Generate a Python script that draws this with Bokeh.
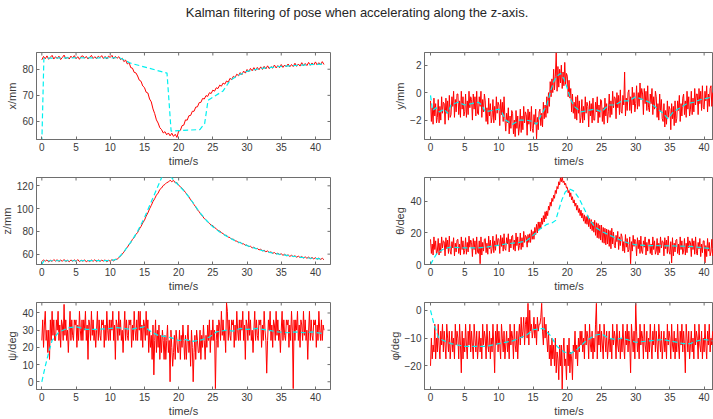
from bokeh.plotting import figure
from bokeh.layouts import column, gridplot
from bokeh.models import Range1d
from bokeh.embed import file_html
from bokeh.resources import INLINE

TITLE = "Kalman filtering of pose when accelerating along the z-axis."
X_LABEL = "time/s"
X_TICKS = [0, 5, 10, 15, 20, 25, 30, 35, 40]
DT_X = 0.25    # sampling step of x and z measurements (s)
DT_F = 0.125   # sampling step of y, theta, psi, phi measurements (s)

# ---------------- x / mm ----------------
x_meas = [
    83.6, 84.9, 84.0, 85.1, 83.8, 84.6, 85.3, 83.9, 84.8, 84.1, 85.0, 83.7,
    84.5, 85.4, 84.0, 84.7, 83.9, 85.0, 84.3, 85.2, 84.0, 84.8, 83.8, 84.9,
    85.1, 84.2, 84.9, 83.9, 84.6, 85.3, 84.1, 84.8, 84.0, 85.0, 84.4, 85.2,
    84.1, 84.9, 83.9, 85.0, 84.5, 85.3, 84.0, 84.9, 84.2, 84.8, 83.7, 84.2,
    82.9, 83.5, 82.0, 82.6, 80.6, 80.4, 78.8, 78.6, 77.4, 75.8, 75.4, 73.6,
    73.0, 71.2, 70.9, 68.6, 67.5, 64.8, 63.0, 60.6, 59.4, 57.6, 56.9, 55.6,
    56.1, 54.9, 55.6, 54.5, 55.5, 54.3, 55.1, 53.9, 56.3, 56.6, 58.4, 58.6,
    60.6, 60.5, 62.2, 62.3, 63.9, 63.9, 65.5, 65.6, 67.2, 67.3, 68.8, 68.6,
    69.9, 69.6, 71.0, 70.7, 72.0, 71.6, 72.9, 72.6, 73.9, 73.5, 74.7, 74.3,
    75.5, 75.0, 76.5, 76.0, 77.3, 76.8, 78.1, 77.5, 78.7, 77.9, 79.3, 78.5,
    79.9, 79.0, 80.3, 79.4, 80.6, 79.5, 80.7, 79.8, 80.9, 79.9, 81.1, 80.1,
    81.3, 80.2, 81.0, 80.4, 81.6, 80.5, 81.4, 80.6, 81.8, 80.7, 81.6, 80.9,
    82.0, 80.9, 81.8, 81.0, 82.3, 81.1, 82.0, 81.2, 82.5, 81.3, 82.2, 81.4,
    82.6, 81.5, 82.4, 81.6, 82.8, 81.6, 82.5, 81.7, 82.9, 81.8,
]
x_filt_t = [0.0, 0.3, 2, 5, 8, 11, 11.5, 13, 18.3, 18.9, 20, 23.1, 23.8, 24.3,
            26.5, 27.5, 28.5, 30, 32, 35, 38, 41.2]
x_filt_v = [52.0, 84.2, 84.3, 84.4, 84.3, 84.4, 84.2, 82.3, 78.5, 56.3, 56.5,
            56.9, 59.2, 68.1, 71.7, 75.6, 77.4, 79.2, 80.3, 81.1, 81.6, 82.0]

# ---------------- y / mm ----------------
y_meas = [
    -0.6, -2.1, -1.1, -2.3, -0.4, -1.7, -0.8, -2.2,
    -1.8, -0.5, -2.2, -1.0, -2.0, -0.3, -1.5, -0.7,
    -0.8, -2.3, -0.4, -1.5, -0.6, -2.0, -0.2, -1.8,
    -1.6, -0.3, -1.0, 0.1, -1.8, -0.5, -1.4, -0.1,
    -0.1, -1.6, -0.6, -1.8, 0.1, -1.2, -0.3, -1.7,
    -1.4, -0.1, -1.8, -0.6, -1.6, 0.1, -1.1, -0.3,
    -0.5, -2.0, -0.1, -1.2, -0.3, -1.7, 0.1, -1.5,
    -1.6, -0.3, -1.0, 0.1, -1.8, -0.5, -1.4, -0.1,
    -0.6, -2.1, -1.1, -2.3, -0.4, -1.7, -0.8, -2.2,
    -1.8, -0.5, -2.2, -1.0, -2.0, -0.3, -1.5, -0.7,
    -0.9, -2.4, -0.5, -1.6, -0.7, -2.1, -0.3, -1.9,
    -2.8, -1.5, -2.2, -1.1, -3.0, -1.7, -2.6, -1.3,
    -1.5, -3.0, -2.0, -3.2, -1.3, -2.6, -1.7, -3.1,
    -2.5, -1.2, -2.9, -1.7, -2.7, -1.0, -2.2, -1.4,
    -1.6, -3.1, -1.2, -2.3, -1.4, -2.8, -1.0, -2.6,
    -2.9, -1.6, -2.3, -1.2, -3.4, -1.8, -2.7, -1.4,
    -1.2, -2.4, -1.5, -2.5, -0.7, -1.9, -0.9, -1.8,
    -0.3, -1.5, 0.0, -1.0, 0.8, -0.3, 1.0, 0.0,
    1.7, 0.2, 1.2, 2.9, 0.1, 1.9, 0.4, 1.7,
    0.7, 2.0, 0.3, 1.5, 0.5, 2.2, 0.6, 1.4,
    1.2, -0.3, 0.9, -0.4, 0.3, -1.4, -0.1, -1.5,
    -0.7, -1.9, -0.3, -2.0, -0.2, -1.5, -0.6, -2.2,
    -1.8, -0.5, -2.2, -1.0, -2.0, -0.3, -1.5, -0.7,
    -1.0, -2.5, -0.6, -1.7, -0.8, -2.2, -0.4, -2.0,
    -2.0, -0.7, -1.4, -0.3, -2.2, -0.9, -1.8, -0.5,
    -0.6, -2.1, -1.1, -2.3, -0.4, -1.7, -0.8, -2.2,
    -1.4, -0.1, -1.8, -0.6, -1.6, 0.1, -1.1, -0.3,
    -0.4, -1.9, 0.0, -1.1, -0.2, -1.6, 0.2, -1.4,
    -1.5, -0.2, -0.9, 1.5, -1.7, -0.4, -1.3, 0.0,
    0.2, -1.3, -0.3, -1.5, 0.4, -0.9, 0.0, -1.4,
    -0.8, 0.5, -1.2, 0.0, -1.0, 0.7, -0.5, 0.3,
    -0.1, -1.6, 0.3, -0.8, 0.1, -1.3, 0.5, -1.1,
    -1.4, -0.1, -0.8, 0.3, -1.6, -0.3, -1.2, 0.1,
    -0.3, -1.8, -0.8, -2.0, -0.1, -1.4, -0.5, -1.9,
    -2.1, -0.8, -2.5, -1.3, -2.3, -0.6, -1.8, -1.0,
    -1.2, -2.7, -0.8, -1.9, -1.0, -2.4, -0.6, -2.2,
    -1.9, -0.6, -1.3, -0.2, -2.1, -0.8, -1.7, -0.4,
    -0.1, -1.6, -0.6, -1.8, 0.1, -1.2, -0.3, -1.7,
    -1.2, 0.1, -1.6, -0.4, -1.4, 0.3, -0.9, -0.1,
    -0.1, -1.6, 0.3, -0.8, 0.1, -1.3, 0.5, -1.1,
    -1.2, 0.1, -0.6, 0.5, -1.4, -0.1, -1.0, 0.3,
    0.5, -1.0, 0.0,
]
y_filt_t = [0, 0.3, 0.8, 1.3, 2, 2.5, 3, 4, 5, 6, 7, 7.5, 8, 9, 10, 10.5, 11, 12,
            13, 14, 15, 15.5, 16, 17, 17.5, 18, 18.5, 19, 19.5, 20, 20.5, 21, 22,
            23, 24, 25, 26, 27, 28, 29, 30, 31, 32, 33, 34, 34.7, 35.5, 36.5,
            37.5, 38.5, 39.5, 40.5, 41.2]
y_filt_v = [-0.2, -1.3, -1.1, -1.4, -1.2, -1.5, -0.9, -0.7, -0.9, -0.8, -0.7, -0.9,
            -1.4, -1.3, -1.2, -1.5, -2.0, -2.3, -2.0, -2.0, -2.1, -2.3, -1.8, -0.9,
            0.0, 0.8, 1.2, 1.4, 1.0, 0.3, -0.5, -1.0, -1.4, -1.3, -1.2, -1.4, -0.9,
            -0.9, -0.6, -0.6, -0.3, -0.5, -0.7, -1.1, -1.5, -1.9, -1.4, -1.1, -0.8,
            -0.7, -0.5, -0.4, -0.3]

# ---------------- z / mm ----------------
z_meas = [
    53.5, 55.0, 53.8, 54.9, 53.2, 54.6, 53.6, 55.2, 53.9, 55.1, 53.4, 54.8,
    53.7, 55.3, 53.5, 54.6, 53.3, 54.9, 53.8, 55.0, 53.6, 55.2, 53.4, 54.7,
    53.8, 55.0, 53.2, 54.5, 53.5, 54.8, 53.7, 55.1, 53.4, 54.9, 53.6, 54.7,
    53.9, 55.0, 53.3, 54.6, 53.8, 55.2, 54.0, 55.4, 55.5, 56.8, 58.3, 60.1,
    61.8, 64.3, 66.0, 68.5, 70.2, 73.0, 74.5, 77.3, 79.0, 82.0, 84.3, 87.4,
    89.7, 93.4, 96.2, 99.8, 102.8, 106.2, 108.7, 111.8, 113.6, 116.8, 118.0, 120.3,
    121.2, 122.8, 123.3, 124.9, 123.6, 124.8, 122.6, 122.9, 120.5, 119.2, 117.9, 116.0,
    114.2, 112.1, 110.3, 107.7, 106.0, 103.5, 101.4, 98.9, 97.2, 95.0, 93.3, 91.2,
    90.2, 88.2, 87.1, 85.3, 85.1, 83.3, 82.4, 80.7, 80.4, 78.8, 78.0, 76.6,
    76.5, 74.9, 74.6, 73.1, 73.2, 71.6, 71.5, 70.0, 70.5, 69.0, 69.1, 67.6,
    68.1, 66.6, 66.9, 65.5, 66.2, 64.7, 65.1, 63.7, 64.3, 62.9, 63.4, 62.1,
    62.8, 61.5, 62.0, 60.7, 61.4, 60.1, 60.8, 59.6, 60.3, 59.0, 59.9, 58.6,
    59.4, 58.0, 59.0, 57.8, 58.6, 57.3, 58.2, 57.0, 57.9, 56.6, 57.6, 56.4,
    57.4, 56.0, 57.1, 55.8, 56.9, 55.5, 56.6, 55.3, 56.4, 55.0,
]
z_filt_t = [0, 0.3, 5, 10, 11, 12, 13, 14, 15, 16, 17, 17.5, 18, 18.5, 19, 19.5,
            20, 21, 22, 23, 24, 25, 26, 27, 28, 29, 30, 31, 32, 33, 34, 35, 36,
            37, 38, 39, 40, 41.2]
z_filt_v = [51.0, 54.2, 54.2, 54.3, 55.5, 62.0, 70.5, 80.0, 92.0, 106.0, 120.0,
            127.0, 132.0, 131.0, 127.0, 123.5, 120.5, 114.0, 106.0, 97.3, 90.0,
            84.0, 79.5, 75.8, 72.5, 70.0, 67.5, 65.5, 63.5, 62.0, 60.6, 59.6,
            58.7, 57.9, 57.2, 56.6, 56.1, 55.6]

# ---------------- theta / deg ----------------
th_meas = [
    16, 7, 13, 6, 17.5, 9.5, 15, 6.5,
    8.5, 16.5, 6, 13.5, 7.5, 17.5, 10.5, 15,
    14.5, 5.5, 17, 10, 15.5, 7, 18, 8.5,
    6.5, 14.5, 10.5, 17, 5.5, 13.5, 8, 15.5,
    16, 7, 13, 6, 17.5, 9.5, 15, 6.5,
    9, 17, 6.5, 14, 8, 18, 11, 15.5,
    14, 5, 16.5, 9.5, 15, 6.5, 17.5, 8,
    7, 15, 0.5, 17.5, 6, 14, 8.5, 16,
    16.5, 7.5, 13.5, 6.5, 18, 10, 15.5, 7,
    10, 18, 7.5, 15, 9, 19, 12, 16.5,
    16, 7, 18.5, 11.5, 17, 8.5, 19.5, 10,
    9, 17, 13, 19.5, 8, 16, 10.5, 18,
    18.5, 9.5, 15.5, 8.5, 20, 12, 17.5, 9,
    12, 20, 9.5, 17, 11, 21, 14, 18.5,
    17.5, 11, 19, 14, 19.5, 14, 22, 16,
    21, 16, 23.5, 19, 25.5, 20, 27, 22,
    27, 22.5, 29.5, 25.5, 31, 27, 33.5, 29,
    34, 31, 37, 34.5, 39.5, 37, 42, 40,
    44, 42, 47, 45, 49.5, 48, 52.5, 50.5,
    55, 52.5, 55.5, 52, 53, 50.5, 51.5, 48.5,
    49, 45.5, 47, 43, 45.5, 41, 43, 39,
    41, 37, 39, 34.5, 37.5, 33, 35.5, 31,
    34.5, 29.5, 32.5, 27.5, 31.5, 26, 30.5, 25.5,
    31, 24, 29.5, 22.5, 28.5, 21.5, 27, 20.5,
    28, 18.5, 26.5, 17, 26, 16.5, 25, 15.5,
    25, 14, 23.5, 13.5, 23, 12.5, 22.5, 13,
    22, 11.5, 21.5, 10, 23, 13, 20.5, 12,
    10.5, 18.5, 14.5, 21, 9.5, 17.5, 12, 19.5,
    17.5, 8.5, 14.5, 7.5, 19, 11, 16.5, 8,
    9.5, 17.5, 0.5, 14.5, 8.5, 18.5, 11.5, 16,
    14.5, 5.5, 17, 10, 15.5, 7, 18, 8.5,
    7, 15, 11, 17.5, 6, 14, 8.5, 16,
    16, 7, 13, 6, 17.5, 9.5, 15, 6.5,
    8.5, 16.5, 6, 13.5, 7.5, 17.5, 10.5, 15,
    14.5, 5.5, 17, 10, 15.5, 7, 18, 8.5,
    6.5, 14.5, 1, 17, 5.5, 13.5, 8, 15.5,
    16, 7, 13, 6, 17.5, 9.5, 15, 6.5,
    8.5, 16.5, 6, 13.5, 7.5, 17.5, 10.5, 15,
    14, 5, 16.5, 9.5, 15, 6.5, 17.5, 8,
    6, 14, 10, 16.5, 5, 13, 7.5, 15,
    15, 1, 12, 5, 16.5, 8.5, 14, 5.5,
    8, 16, 5.5,
]
th_filt_t = [0, 0.5, 1, 2, 3, 5, 7, 9, 11, 13, 14, 15, 16, 17, 17.8, 18.3, 18.7,
             19.2, 19.7, 20.3, 21, 21.7, 22.5, 23.3, 24, 25, 26, 27, 28, 29, 30,
             32, 35, 38, 41.2]
th_filt_v = [0.0, 4.0, 7.5, 10.0, 11.0, 10.5, 10.5, 11.5, 13.0, 14.0, 15.0, 18.5,
             22.5, 25.5, 26.5, 28.0, 34.0, 41.0, 46.0, 48.0, 46.5, 42.0, 35.0,
             28.0, 24.0, 21.0, 19.0, 17.0, 15.0, 13.5, 12.5, 12.0, 11.8, 11.5, 10.0]

# ---------------- psi / deg ----------------
psi_meas = [
    24, 36, 20, 33, 41, 24, 30, 17,
    30, 13, 36, 24, 41, 27, 36, 24,
    24, 36, 30, 41, 24, 33, 20, 36,
    33, 24, 45, 27, 36, 24, 30, 17,
    30, 41, 24, 36, 27, 24, 36, 33,
    36, 20, 33, 24, 41, 30, 24, 36,
    24, 36, 30, 41, 24, 33, 13, 36,
    33, 24, 41, 27, 36, 24, 30, 20,
    30, 41, 24, 36, 27, 24, 36, 33,
    36, 20, 33, 24, 41, 30, 24, 36,
    24, 36, 30, 41, 24, 33, 13, 36,
    33, 24, 41, 27, 36, 24, 30, 17,
    30, 41, 24, 36, 27, 24, 36, 33,
    36, 20, 33, 24, 41, 30, 24, 36,
    24, 41, 30, 41, 24, 33, 20, 36,
    33, 24, 41, 27, 36, 17, 30, 20,
    27, 13, 33, 4, 24, 36, 17, 30,
    20, 33, 13, 27, 17, 30, 24, 13,
    27, 13, 24, 33, 17, 24, 0, 30,
    20, 9, 17, 27, 13, 30, 24, 17,
    17, 30, 13, 27, 20, 33, 24, 13,
    27, 13, 24, 33, 17, 24, 9, 30,
    20, 0, 17, 27, 13, 30, 24, 17,
    17, 30, 13, 27, 20, 33, 24, 13,
    27, 20, 33, 24, 36, 17, 30, 24,
    36, 24, 30, -4, 24, 33, 20, 36,
    33, 24, 41, 27, 36, 24, 30, 17,
    46, 41, 24, 36, 27, 24, 36, 33,
    36, 20, 33, 24, 41, 30, 24, 36,
    24, 36, 30, 41, 24, 33, 13, 36,
    33, 24, 41, 27, 36, 24, 30, 17,
    30, 41, 24, 36, 27, 24, 36, 33,
    36, 20, 33, 24, 41, 30, 24, 5,
    24, 36, 30, 41, 24, 33, 20, 36,
    33, 24, 41, 27, 36, 24, 30, 17,
    30, 41, 24, 36, 27, 24, 36, 33,
    36, 20, 33, 24, 41, 30, -4, 36,
    24, 36, 30, 41, 24, 33, 20, 36,
    33, 24, 41, 27, 36, 24, 30, 13,
    30, 41, 24, 36, 27, 24, 36, 33,
    36, 20, 33, 24, 41, 30, 24, 36,
    24, 33, 30,
]
psi_filt_t = [0, 0.5, 1, 1.5, 2.5, 4, 5, 6.5, 8, 10, 11, 13, 15, 16, 17, 18.5,
              19, 20, 21, 22, 23.5, 24.5, 25.5, 27, 28, 29, 30, 31.5, 33, 34.5,
              36, 37, 38.5, 39.5, 41.2]
psi_filt_v = [0, 9, 17, 24, 29, 31.5, 32, 30.5, 30.5, 31, 31.5, 30.5, 32, 29, 27,
              26, 25.5, 24, 24.5, 23.5, 24.5, 26, 29, 30, 29.5, 31, 30.5, 31, 30,
              29, 28.5, 29, 28.5, 29, 28]

# ---------------- phi / deg ----------------
phi_meas = [
    -20, -10, -17.5, -12.5, -15, -5, -17.5, -10,
    -15, -5, -12.5, -17.5, -7.5, -12.5, -5, -15,
    -7.5, -12.5, -17.5, -5, -10, -15, -7.5, -17.5,
    -12.5, -7.5, -15, -10, -17.5, -5, -12.5, -7.5,
    -10, -17.5, -5, -12.5, -22.5, -7.5, -17.5, -10,
    -15, -5, -12.5, -17.5, -7.5, -12.5, -5, -15,
    -7.5, -12.5, -17.5, -5, -10, -15, -7.5, -17.5,
    -12.5, -7.5, -15, -10, -17.5, -5, -12.5, -7.5,
    -10, -17.5, -5, -12.5, -15, -7.5, -17.5, -10,
    -15, -5, -12.5, -22.5, -7.5, -12.5, -5, -15,
    -7.5, -12.5, -17.5, -5, -10, -15, -7.5, -17.5,
    -12.5, -7.5, -15, -10, -17.5, -5, -12.5, -7.5,
    -10, -17.5, -5, -12.5, -15, -7.5, -17.5, -10,
    -5, -12.5, -2.5, -10, -7.5, -2.5, -12.5, -5,
    -2.5, -10, 2.5, -12.5, 0, -7.5, -5, -10,
    -7.5, -2.5, -10, -5, -12.5, -2.5, -7.5, -5,
    -5, -2.5, 2.5, -7.5, -12.5, -2.5, -10, -5,
    -10, -15, -7.5, -17.5, -12.5, -20, -10, -17.5,
    -12.5, -20, -10, -22.5, -15, -17.5, -25, -12.5,
    -20, -12.5, -28.5, -15, -10, -20, -17.5, -25,
    -12.5, -20, -10, -22.5, -15, -17.5, -25, -12.5,
    -15, -7.5, -17.5, -12.5, -20, -10, -15, -7.5,
    -12.5, -7.5, -15, -10, -17.5, -5, -12.5, -7.5,
    -10, -17.5, -5, -12.5, -15, -7.5, -17.5, -10,
    -15, -5, 2.5, -17.5, -7.5, -12.5, -5, -15,
    -7.5, -12.5, -17.5, -5, -10, -15, -7.5, -17.5,
    -12.5, -7.5, -15, -10, -17.5, -5, -12.5, -7.5,
    -10, -17.5, -5, -12.5, -15, -7.5, -17.5, -10,
    -15, -5, -12.5, -17.5, -7.5, -12.5, -5, -15,
    -7.5, -12.5, -22.5, -5, -10, -15, -7.5, -17.5,
    2.5, -7.5, -15, -10, -17.5, -5, -12.5, -7.5,
    -10, -17.5, -5, -12.5, -15, -7.5, -17.5, -10,
    -15, -5, -12.5, -17.5, -7.5, -12.5, -5, -15,
    -7.5, -12.5, -17.5, -5, -10, -15, -7.5, -17.5,
    -12.5, -7.5, -15, -10, -17.5, -5, -12.5, -7.5,
    -10, -17.5, -5, -12.5, -15, -7.5, -17.5, -10,
    -15, -5, -12.5, -17.5, -7.5, -12.5, -5, -15,
    -7.5, -12.5, -22.5, -5, -10, -15, -7.5, -17.5,
    -12.5, -7.5, -15, -10, -17.5, -5, -12.5, -7.5,
    -10, -17.5, -5, -12.5, -15, -7.5, -17.5, -10,
    -15, -5, -12.5, -17.5, -7.5, -12.5, -5, -15,
    -10, -12.5, -7.5,
]
phi_filt_t = [0, 0.5, 1.2, 2, 3, 5, 8, 10, 12, 14, 15, 16.5, 17.5, 18.5, 19.5,
              20.5, 21.5, 22.5, 24, 25, 26, 27, 28, 30, 32, 34, 35, 37, 38, 39,
              40, 41.2]
phi_filt_v = [0, -5, -10, -11, -12, -13, -13, -12, -11, -9, -7, -6.5, -9, -13,
              -15, -15.5, -14, -11.5, -9, -8.5, -10, -10.5, -10, -11.5, -11,
              -10.5, -11, -12, -12, -11, -10.5, -11]

PANELS = [
    (x_meas, DT_X, x_filt_t, x_filt_v, "x/mm", [60, 70, 80], (53.1, 86.4)),
    (y_meas, DT_F, y_filt_t, y_filt_v, "y/mm", [-2, 0, 2], (-3.41, 2.92)),
    (z_meas, DT_X, z_filt_t, z_filt_v, "z/mm", [60, 80, 100, 120], (50.9, 127.3)),
    (th_meas, DT_F, th_filt_t, th_filt_v, "\u03b8/deg", [0, 20, 40], (0.0, 55.2)),
    (psi_meas, DT_F, psi_filt_t, psi_filt_v, "\u03c8/deg", [0, 10, 20, 30, 40], (-4.5, 46.1)),
    (phi_meas, DT_F, phi_filt_t, phi_filt_v, "\u03c6/deg", [-20, -10, 0], (-28.5, 2.8)),
]

FONT = "Liberation Sans"
AX_COL = "#6e6e6e"
TXT_COL = "#3a3a3a"
SHIFT = 12  # extra left border of the left column, hidden by a negative margin


def style_axis(ax, ticks):
    ax.ticker = ticks
    ax.major_tick_in = 3
    ax.major_tick_out = 0
    ax.minor_tick_line_color = None
    ax.axis_line_color = AX_COL
    ax.major_tick_line_color = AX_COL
    ax.major_label_text_color = TXT_COL
    ax.major_label_text_font = FONT
    ax.major_label_text_font_size = "10px"
    ax.major_label_standoff = 3
    ax.axis_label_text_font = FONT
    ax.axis_label_text_color = TXT_COL
    ax.axis_label_text_font_style = "normal"
    ax.axis_label_text_font_size = "11px"
    ax.axis_label_standoff = 1


def make_panel(spec, col):
    meas, dt, ft, fv, ylabel, yticks, yrange = spec
    if col == 0:
        left, fw, right = 36 + SHIFT, 294, 50
        xr = (-0.78, 42.2)
    else:
        left, fw, right = 44, 289, 0
        xr = (-0.88, 41.37)
    p = figure(width=left + fw + right, height=125,
               x_range=Range1d(*xr), y_range=Range1d(*yrange),
               toolbar_location=None, output_backend="svg",
               min_border_left=left, min_border_right=right,
               min_border_top=8, min_border_bottom=30)
    p.xgrid.visible = False
    p.ygrid.visible = False
    p.outline_line_color = AX_COL
    p.background_fill_color = "white"
    p.border_fill_color = "white"
    t = [i * dt for i in range(len(meas))]
    p.line(t, meas, color="#ff0000", line_width=1.0)
    p.line(ft, fv, color="#00f0f0", line_width=1.2, line_dash="5 3")
    style_axis(p.xaxis[0], X_TICKS)
    style_axis(p.yaxis[0], yticks)
    p.xaxis.axis_label = X_LABEL
    p.yaxis.axis_label = ylabel
    # inward ticks on the top edge (and right edge of the left column), as in a boxed axes
    p.scatter(x=X_TICKS, y=[yrange[1]] * len(X_TICKS), marker="dash", angle=1.5708,
              size=6, line_color=AX_COL, line_width=1)
    if col == 0:
        p.scatter(x=[xr[1]] * len(yticks), y=yticks, marker="dash",
                  size=6, line_color=AX_COL, line_width=1)
    return p


rows = []
for r in range(3):
    rows.append([make_panel(PANELS[2 * r], 0), make_panel(PANELS[2 * r + 1], 1)])

grid = gridplot(rows, toolbar_location=None)
grid.styles = {"margin-left": f"-{SHIFT}px"}

head = figure(width=713, height=44, toolbar_location=None, output_backend="svg",
              x_axis_location=None, y_axis_location=None,
              min_border_top=0, min_border_bottom=0, min_border_left=0, min_border_right=0)
head.title.text = TITLE
head.title.align = "center"
head.title.vertical_align = "bottom"
head.title.standoff = 4
head.title.text_font = FONT
head.title.text_font_size = "13px"
head.title.text_font_style = "normal"
head.title.text_color = "#262626"
head.outline_line_color = None
head.xgrid.visible = False
head.ygrid.visible = False
head.border_fill_color = "white"

layout = column(head, grid)
open("out.html", "w").write(file_html(layout, INLINE))
